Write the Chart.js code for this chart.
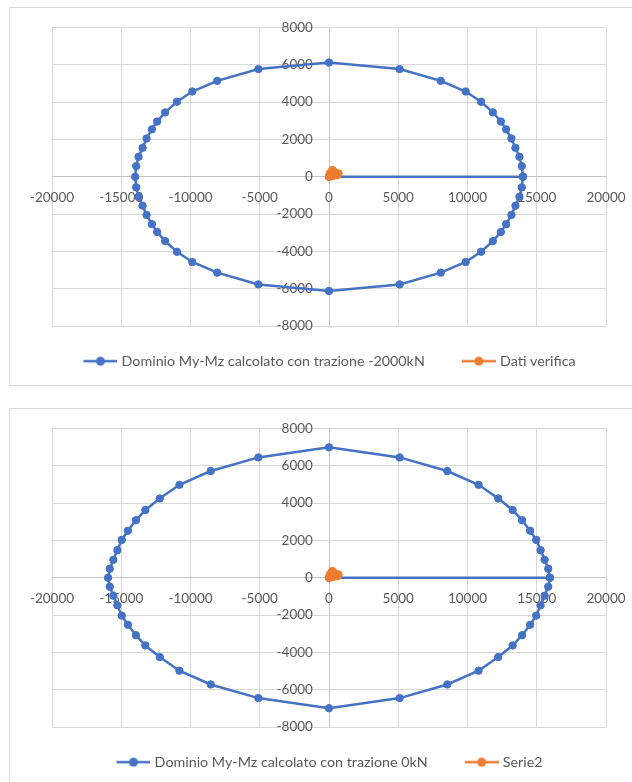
<!DOCTYPE html>
<html lang="it">
<head>
<meta charset="utf-8">
<title>Domini My-Mz</title>
<script src="https://cdn.jsdelivr.net/npm/chart.js@4.4.1/dist/chart.umd.min.js"></script>
<style>
  body { margin: 0; background: #fff; width: 632px; height: 782px; overflow: hidden; position: relative; }
  .box { position: absolute; left: 9px; width: 625px; height: 379px; box-sizing: border-box; border: 1px solid #d9d9d9; background: #fff; }
  #box1 { top: 7px; }
  #box2 { top: 408px; }
  canvas { display: block; }
</style>
</head>
<body>
<div class="box" id="box1"><canvas id="chart1" width="620" height="376"></canvas></div>
<div class="box" id="box2"><canvas id="chart2" width="620" height="376"></canvas></div>

<script>
// ===== Dati =====

// Dominio My-Mz con trazione -2000kN (grafico in alto)
const dominio1My = [
  0,
  14000, 13920, 13750, 13460, 13170, 12790, 12410, 11830, 10980, 9870, 8070, 5100, 0,
  -5100, -8070, -9870, -10980, -11830, -12410, -12790, -13170, -13460, -13750, -13920, -14000,
  -13920, -13750, -13460, -13170, -12790, -12410, -11830, -10980, -9870, -8070, -5100, 0,
  5100, 8070, 9870, 10980, 11830, 12410, 12790, 13170, 13460, 13750, 13920, 14000
];
const dominio1Mz = [
  0,
  0, 570, 1070, 1550, 2050, 2540, 2960, 3450, 4020, 4570, 5140, 5770, 6120,
  5770, 5140, 4570, 4020, 3450, 2960, 2540, 2050, 1550, 1070, 570, 0,
  -570, -1070, -1550, -2050, -2540, -2960, -3450, -4020, -4570, -5140, -5770, -6120,
  -5770, -5140, -4570, -4020, -3450, -2960, -2540, -2050, -1550, -1070, -570, 0
];

// Dominio My-Mz con trazione 0kN (grafico in basso)
const dominio2My = [
  0,
  15950, 15830, 15570, 15280, 14960, 14520, 13940, 13260, 12220, 10800, 8540, 5100, 0,
  -5100, -8540, -10800, -12220, -13260, -13940, -14520, -14960, -15280, -15570, -15830, -15950,
  -15830, -15570, -15280, -14960, -14520, -13940, -13260, -12220, -10800, -8540, -5100, 0,
  5100, 8540, 10800, 12220, 13260, 13940, 14520, 14960, 15280, 15570, 15830, 15950
];
const dominio2Mz = [
  0,
  0, 480, 960, 1480, 2030, 2520, 3080, 3630, 4250, 4980, 5720, 6450, 6990,
  6450, 5720, 4980, 4250, 3630, 3080, 2520, 2030, 1480, 960, 480, 0,
  -480, -960, -1480, -2030, -2520, -3080, -3630, -4250, -4980, -5720, -6450, -6990,
  -6450, -5720, -4980, -4250, -3630, -3080, -2520, -2030, -1480, -960, -480, 0
];

// Punti di verifica (arancio)
const verificaMy = [0, 60, 180, 250, 380, 520, 690, 600, 350, 120, 0];
const verificaMz = [0, 180, 300, 360, 260, 200, 170, 80, 60, 20, 0];
const serie2My = [0, 60, 180, 250, 380, 520, 690, 600, 350, 120, 0];
const serie2Mz = [0, 180, 300, 360, 260, 200, 170, 80, 60, 20, 0];

// Assi
const xMin = -20000, xMax = 20000, xStep = 5000;
const yMin = -8000, yMax = 8000, yStep = 2000;

const BLU = '#4472C4';
const ARANCIO = '#ED7D31';
const TESTO = '#595959';
const GRIGLIA = '#d9d9d9';
const ASSE = '#c4c4c4';
const FONT_ASSI = { family: 'Lato, "Open Sans", sans-serif', size: 13.5 };
const FONT_LEGENDA = { family: 'Lato, "Open Sans", sans-serif', size: 14.3 };

// ===== Utility =====
function toPoints(xs, ys) {
  return xs.map((x, i) => ({ x, y: ys[i] }));
}

// Icona della legenda in stile Excel: linea con pallino
// (margine trasparente a sinistra = spazio tra le voci)
function legendIcon(color) {
  const c = document.createElement('canvas');
  c.width = 54; c.height = 12;
  const g = c.getContext('2d');
  g.strokeStyle = color;
  g.lineWidth = 2.5;
  g.beginPath(); g.moveTo(20, 6); g.lineTo(54, 6); g.stroke();
  g.fillStyle = color;
  g.beginPath(); g.arc(37, 6, 4.5, 0, Math.PI * 2); g.fill();
  return c;
}

function serie(label, xs, ys, color, order) {
  return {
    label,
    data: toPoints(xs, ys),
    showLine: true,
    borderColor: color,
    backgroundColor: color,
    borderWidth: 2.5,
    pointRadius: 3.7,
    pointBorderWidth: 1,
    pointBackgroundColor: color,
    pointBorderColor: color,
    order,
    icon: legendIcon(color)
  };
}

// niente spazio extra riservato alle etichette agli estremi
function noPadding(scale) {
  scale.paddingLeft = 0; scale.paddingRight = 0;
  scale.paddingTop = 0; scale.paddingBottom = 0;
}

// sposta la legenda come in Excel (un po' a sinistra e più in basso)
const legendShift = {
  id: 'legendShift',
  afterUpdate(chart) {
    const l = chart.legend;
    l.left -= 8; l.right -= 8;
    l.top += 8; l.bottom += 8;
  }
};

// ===== Grafico =====
function makeChart(id, datasets) {
  const ctx = document.getElementById(id).getContext('2d');
  return new Chart(ctx, {
    type: 'scatter',
    data: { datasets },
    plugins: [legendShift],
    options: {
      responsive: false,
      animation: false,
      layout: { padding: { left: 42, right: 24, top: 19.5, bottom: 13.7 } },
      scales: {
        x: {
          type: 'linear',
          axis: 'x',
          position: { y: 0 },
          min: xMin, max: xMax,
          afterFit: noPadding,
          grid: { color: c => c.tick && c.tick.value === 0 ? ASSE : GRIGLIA, drawTicks: false },
          border: { color: ASSE, width: 1 },
          ticks: {
            stepSize: xStep, autoSkip: false, maxRotation: 0,
            padding: 12.5, color: TESTO, font: FONT_ASSI,
            callback: v => String(v)
          }
        },
        y: {
          type: 'linear',
          axis: 'y',
          // etichette staccate dall'asse verticale (Chart.js non applica il padding qui)
          position: { x: -1160 },
          min: yMin, max: yMax,
          afterFit: noPadding,
          grid: { color: c => c.tick && c.tick.value === 0 ? ASSE : GRIGLIA, drawTicks: false },
          border: { display: false },
          ticks: {
            stepSize: yStep, autoSkip: false,
            padding: 0, color: TESTO, font: FONT_ASSI,
            callback: v => String(v)
          }
        }
      },
      plugins: {
        tooltip: { enabled: false },
        legend: {
          position: 'bottom',
          labels: {
            usePointStyle: true,
            pointStyleWidth: 48,
            padding: 20,
            color: TESTO,
            font: FONT_LEGENDA,
            sort: (a, b) => a.datasetIndex - b.datasetIndex,
            generateLabels: chart => {
              const items = Chart.defaults.plugins.legend.labels.generateLabels(chart);
              items.forEach(it => { it.pointStyle = chart.data.datasets[it.datasetIndex].icon; });
              return items;
            }
          }
        }
      }
    }
  });
}

makeChart('chart1', [
  serie('Dominio My-Mz calcolato con trazione -2000kN', dominio1My, dominio1Mz, BLU, 1),
  serie('Dati verifica', verificaMy, verificaMz, ARANCIO, 0)
]);

makeChart('chart2', [
  serie('Dominio My-Mz calcolato con trazione 0kN', dominio2My, dominio2Mz, BLU, 1),
  serie('Serie2', serie2My, serie2Mz, ARANCIO, 0)
]);
</script>
</body>
</html>
